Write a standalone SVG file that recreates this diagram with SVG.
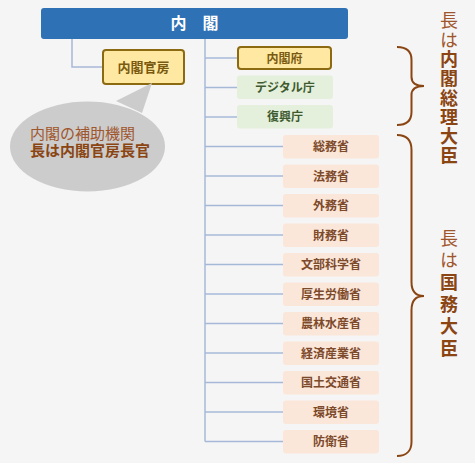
<svg xmlns="http://www.w3.org/2000/svg" width="475" height="463" viewBox="0 0 475 463">
<style>
.ln{fill:none;stroke:#a6b8d8;stroke-width:1.5}
.t{font-family:"Noto Sans CJK JP","Noto Sans",sans-serif;font-weight:bold;text-anchor:middle}
.yb{fill:#ffe8a1;stroke:#8c6a12;stroke-width:2}
.yt{fill:#7a5a10;font-size:12px}
.gb{fill:#e4f0dc}
.gt{fill:#3e5a2e;font-size:12px}
.mb{fill:#fbe6da}
.mt{fill:#7d4a2a;font-size:12px}
.br{fill:none;stroke:#8b4513;stroke-width:2}
.vt{font-family:"Noto Sans CJK JP","Noto Sans",sans-serif;font-size:18px;writing-mode:vertical-rl;fill:#8b4513;font-weight:bold}
.lt{fill:#a0562c;font-weight:normal}
</style>
<rect width="475" height="463" fill="#f5f5f5"/>
<g id="connectors">
<polyline class="ln" points="72,39 72,67 103,67"/>
<line class="ln" x1="205" y1="39" x2="205" y2="441.5" stroke-width="2"/>
<line class="ln" x1="205" y1="58" x2="238" y2="58"/>
<line class="ln" x1="205" y1="87.5" x2="237" y2="87.5"/>
<line class="ln" x1="205" y1="117" x2="237" y2="117"/>
<line class="ln" x1="205" y1="146.5" x2="283" y2="146.5"/>
<line class="ln" x1="205" y1="176" x2="283" y2="176"/>
<line class="ln" x1="205" y1="205.5" x2="283" y2="205.5"/>
<line class="ln" x1="205" y1="235" x2="283" y2="235"/>
<line class="ln" x1="205" y1="264.5" x2="283" y2="264.5"/>
<line class="ln" x1="205" y1="294" x2="283" y2="294"/>
<line class="ln" x1="205" y1="323.5" x2="283" y2="323.5"/>
<line class="ln" x1="205" y1="353" x2="283" y2="353"/>
<line class="ln" x1="205" y1="382.5" x2="283" y2="382.5"/>
<line class="ln" x1="205" y1="412" x2="283" y2="412"/>
<line class="ln" x1="205" y1="441.5" x2="283" y2="441.5"/>
</g>
<g id="naikaku">
<rect x="41" y="8" width="307" height="31" rx="3" fill="#2e72b5"/>
<text class="t" x="194.5" y="29" font-size="16" fill="#ffffff">内　閣</text>
</g>
<g id="kanbo">
<rect class="yb" x="103" y="50" width="81" height="34" rx="3"/>
<text class="t" x="143.5" y="72" font-size="13" fill="#7a5a10">内閣官房</text>
</g>
<g id="bubble">
<ellipse cx="87.5" cy="146.5" rx="77.5" ry="45" fill="#cccccc"/>
<polygon points="116,101 152,83 142,113" fill="#cccccc"/>
<text x="30" y="139" font-family="Noto Sans CJK JP,sans-serif" font-size="15" fill="#a0562c">内閣の補助機関<tspan x="30" dy="17" font-weight="bold" fill="#8b4513">長は内閣官房長官</tspan></text>
</g>
<g id="naikakufu">
<rect class="yb" x="238" y="47" width="93" height="22" rx="3"/>
<text class="t yt" x="284.5" y="62.5">内閣府</text>
</g>
<g id="digital">
<rect class="gb" x="237" y="75.5" width="96" height="23.5" rx="3"/>
<text class="t gt" x="285" y="91.5">デジタル庁</text>
</g>
<g id="fukko">
<rect class="gb" x="237" y="105" width="96" height="23.5" rx="3"/>
<text class="t gt" x="285" y="121">復興庁</text>
</g>
<g id="m1"><rect class="mb" x="283" y="135" width="96" height="23.5" rx="3"/><text class="t mt" x="331" y="151">総務省</text></g>
<g id="m2"><rect class="mb" x="283" y="164.5" width="96" height="23.5" rx="3"/><text class="t mt" x="331" y="180.5">法務省</text></g>
<g id="m3"><rect class="mb" x="283" y="194" width="96" height="23.5" rx="3"/><text class="t mt" x="331" y="210">外務省</text></g>
<g id="m4"><rect class="mb" x="283" y="223.5" width="96" height="23.5" rx="3"/><text class="t mt" x="331" y="239.5">財務省</text></g>
<g id="m5"><rect class="mb" x="283" y="253" width="96" height="23.5" rx="3"/><text class="t mt" x="331" y="269">文部科学省</text></g>
<g id="m6"><rect class="mb" x="283" y="282.5" width="96" height="23.5" rx="3"/><text class="t mt" x="331" y="298.5">厚生労働省</text></g>
<g id="m7"><rect class="mb" x="283" y="312" width="96" height="23.5" rx="3"/><text class="t mt" x="331" y="328">農林水産省</text></g>
<g id="m8"><rect class="mb" x="283" y="341.5" width="96" height="23.5" rx="3"/><text class="t mt" x="331" y="357.5">経済産業省</text></g>
<g id="m9"><rect class="mb" x="283" y="371" width="96" height="23.5" rx="3"/><text class="t mt" x="331" y="387">国土交通省</text></g>
<g id="m10"><rect class="mb" x="283" y="400.5" width="96" height="23.5" rx="3"/><text class="t mt" x="331" y="416.5">環境省</text></g>
<g id="m11"><rect class="mb" x="283" y="430" width="96" height="23.5" rx="3"/><text class="t mt" x="331" y="446">防衛省</text></g>
<g id="brace1">
<path class="br" d="M397,47 C406,47 411.5,51 411.5,60 L411.5,77 C411.5,83 416,86 424,86 C416,86 411.5,89 411.5,95 L411.5,112 C411.5,121 406,125 397,125"/>
<text class="vt" x="449" y="11.5" letter-spacing="1.3"><tspan class="lt">長は</tspan>内閣総理大臣</text>
</g>
<g id="brace2">
<path class="br" d="M397,135 C406,135 411.5,140 411.5,150 L411.5,282 C411.5,291 416,296 424,296 C416,296 411.5,301 411.5,310 L411.5,442 C411.5,451 406,456 397,456"/>
<text class="vt" x="449" y="229" letter-spacing="4"><tspan class="lt">長は</tspan>国務大臣</text>
</g>
</svg>
